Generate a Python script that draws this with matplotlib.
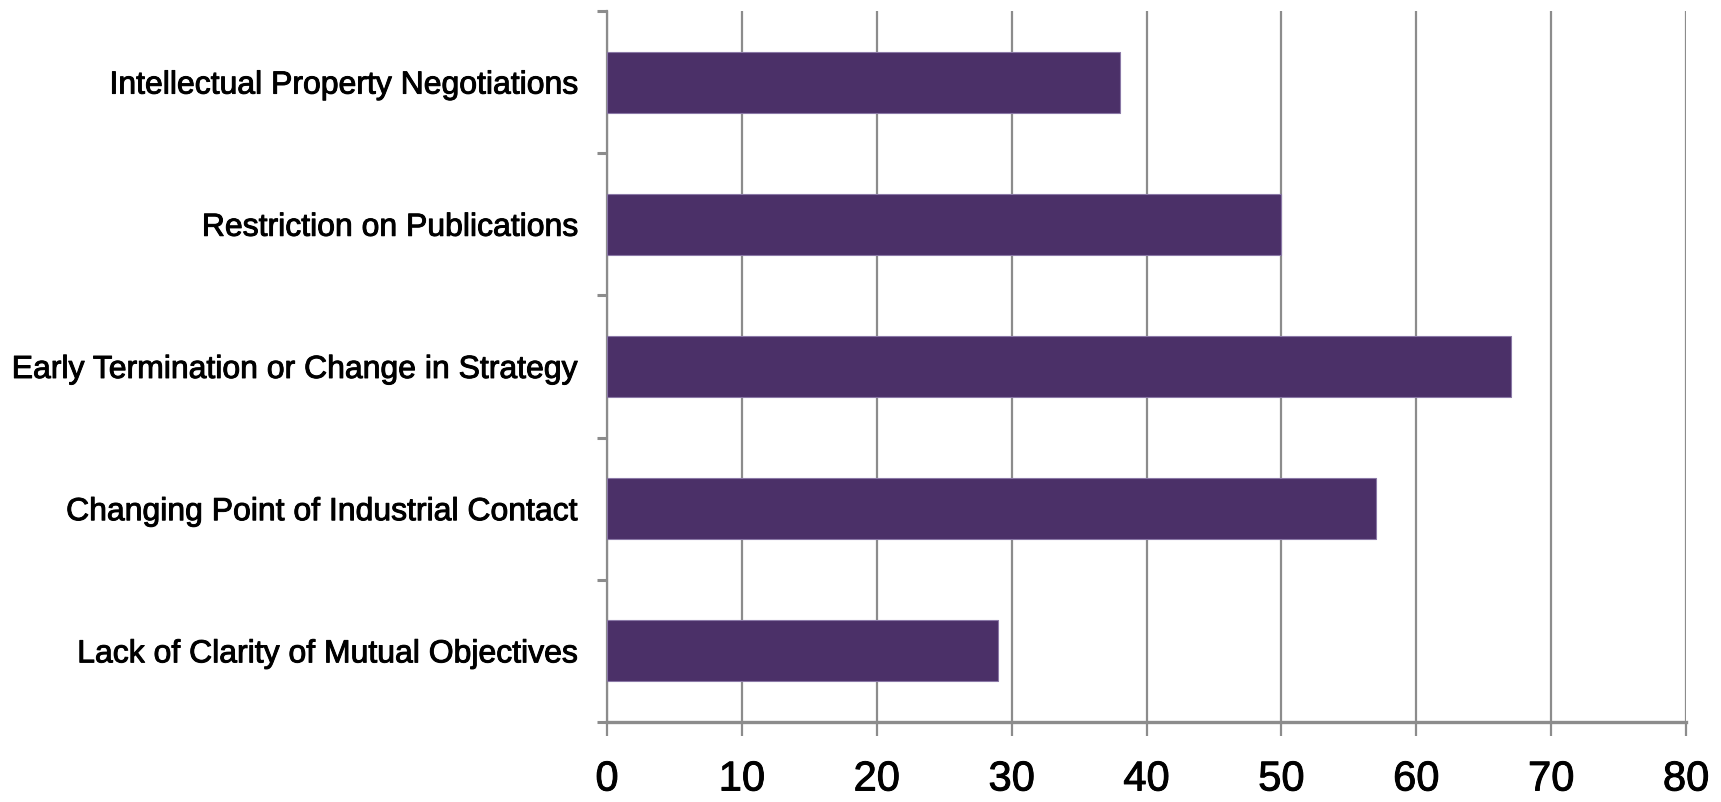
import matplotlib
matplotlib.use("Agg")
import matplotlib.pyplot as plt
import matplotlib.patheffects as pe
from matplotlib.ticker import MultipleLocator, FixedLocator

categories = [
    "Lack of Clarity of Mutual Objectives",
    "Changing Point of Industrial Contact",
    "Early Termination or Change in Strategy",
    "Restriction on Publications",
    "Intellectual Property Negotiations",
]
values = [29, 57, 67, 50, 38]
x_ticks = [0, 10, 20, 30, 40, 50, 60, 70, 80]

FONT = ["Liberation Sans", "DejaVu Sans"]
GRID = "#8c8c8c"
BAR = "#4b3068"
heavy = [pe.withStroke(linewidth=0.7, foreground="black")]

fig = plt.figure(figsize=(17.21, 8.02), dpi=100)
ax = fig.add_axes([0.3527, 0.0998, 0.9797 - 0.3527, 0.9863 - 0.0998])

y = list(range(len(categories)))
ax.barh(y, values, height=0.43, color=BAR, edgecolor="#8a78a6", linewidth=0.8, zorder=3)

ax.set_xlim(0, 80)
ax.set_ylim(-0.5, len(categories) - 0.5)

ax.xaxis.set_major_locator(FixedLocator(x_ticks))
ax.set_xticklabels([str(t) for t in x_ticks], family=FONT, fontsize=30)
ax.tick_params(axis="x", length=10, width=1.6, color=GRID, pad=17)
ax.grid(axis="x", color=GRID, linewidth=1.6, zorder=1)

ax.set_yticks(y)
ax.set_yticklabels(categories, family=FONT, fontsize=23)
ax.yaxis.set_minor_locator(MultipleLocator(1, offset=0.5))
ax.tick_params(axis="y", which="major", length=0, pad=20)
ax.tick_params(axis="y", which="minor", length=7, width=2.2, color=GRID)

for lbl in ax.get_xticklabels() + ax.get_yticklabels():
    lbl.set_path_effects(heavy)

for side in ("top", "right"):
    ax.spines[side].set_visible(False)
ax.spines["left"].set_color(GRID)
ax.spines["left"].set_linewidth(1.6)
ax.spines["bottom"].set_color(GRID)
ax.spines["bottom"].set_linewidth(2.4)
ax.set_axisbelow(True)

fig.savefig("out.png", dpi=100, facecolor="white")
